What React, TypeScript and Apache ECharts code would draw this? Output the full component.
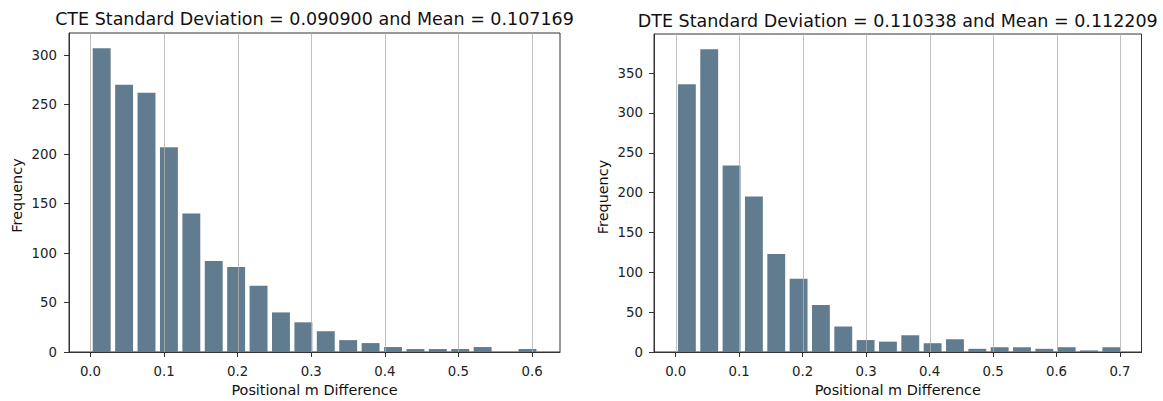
import React, { useEffect, useRef } from "react";
import * as echarts from "echarts";

const cteTitle = "CTE Standard Deviation = 0.090900 and Mean = 0.107169";
const dteTitle = "DTE Standard Deviation = 0.110338 and Mean = 0.112209";
const xLabel = "Positional m Difference";
const yLabel = "Frequency";

// histogram counts (20 bins each)
const cteCounts = [307, 270, 262, 207, 140, 92, 86, 67, 40, 30, 21, 12, 9, 5, 3, 3, 3, 5, 0, 3];
const dteCounts = [336, 380, 234, 195, 123, 92, 59, 32, 15, 13, 21, 11, 16, 4, 6, 6, 4, 6, 2, 6];
// data range covered by the bins
const cteRange = [0.0, 0.609];
const dteRange = [0.0, 0.704];

const cteXTicks = [0, 0.1, 0.2, 0.3, 0.4, 0.5, 0.6];
const dteXTicks = [0, 0.1, 0.2, 0.3, 0.4, 0.5, 0.6, 0.7];
const cteYTicks = [0, 50, 100, 150, 200, 250, 300];
const dteYTicks = [0, 50, 100, 150, 200, 250, 300, 350];

const BAR_COLOR = "#607c8e";
const FONT = "DejaVu Sans";
const RWIDTH = 0.8;

function bins(counts: number[], range: number[]) {
  const w = (range[1] - range[0]) / counts.length;
  return counts.map((c, i) => [range[0] + i * w, range[0] + (i + 1) * w, c]);
}

const barRender = (params: any, api: any) => {
  const x0 = api.value(0);
  const x1 = api.value(1);
  const y = api.value(2);
  const pad = ((x1 - x0) * (1 - RWIDTH)) / 2;
  const p0 = api.coord([x0 + pad, y]);
  const p1 = api.coord([x1 - pad, 0]);
  return {
    type: "rect",
    shape: { x: p0[0], y: p0[1], width: p1[0] - p0[0], height: p1[1] - p0[1] },
    style: { fill: BAR_COLOR },
  };
};

const gridRender = (params: any, api: any) => {
  const cs = params.coordSys;
  const p = api.coord([api.value(0), 0]);
  const x = Math.round(p[0]) + 0.5;
  return {
    type: "line",
    shape: { x1: x, y1: cs.y, x2: x, y2: cs.y + cs.height },
    style: { stroke: "rgba(176,176,176,0.8)", lineWidth: 1 },
  };
};

function xAxisCfg(gridIndex: number, min: number, max: number, ticks: number[]) {
  return {
    type: "value",
    gridIndex,
    min,
    max,
    z: 5,
    axisLine: { show: true, onZero: false, lineStyle: { color: "#333", width: 1 } },
    axisTick: { show: true, length: 5, customValues: ticks, lineStyle: { color: "#333" } },
    axisLabel: {
      customValues: ticks,
      formatter: (v: number) => v.toFixed(1),
      fontFamily: FONT,
      fontSize: 13.3,
      color: "#222",
      margin: 19,
      verticalAlign: "middle",
    },
    splitLine: { show: false },
  };
}

function yAxisCfg(gridIndex: number, max: number, ticks: number[], margin: number) {
  return {
    type: "value",
    gridIndex,
    min: 0,
    max,
    z: 5,
    axisLine: { show: true, onZero: false, lineStyle: { color: "#333", width: 1 } },
    axisTick: { show: true, length: 5, customValues: ticks, lineStyle: { color: "#333" } },
    axisLabel: {
      customValues: ticks,
      fontFamily: FONT,
      fontSize: 13.3,
      color: "#222",
      margin,
    },
    splitLine: { show: false },
  };
}

export default function App() {
  const ref = useRef<HTMLDivElement>(null);
  useEffect(() => {
    if (!ref.current) return;
    const chart = echarts.init(ref.current, undefined, { renderer: "svg" });
    const g1 = { left: 69, top: 33, width: 491, height: 319 };
    const g2 = { left: 654, top: 34, width: 487.5, height: 318 };
    const c1 = g1.left + g1.width / 2;
    const c2 = g2.left + g2.width / 2;
    const textStyle = (size: number) => ({ fontFamily: FONT, fontSize: size, fill: "#111" });
    chart.setOption({
      animation: false,
      backgroundColor: "#fff",
      grid: [
        { ...g1, show: true, borderColor: "#333", borderWidth: 1, backgroundColor: "transparent" },
        { ...g2, show: true, borderColor: "#333", borderWidth: 1, backgroundColor: "transparent" },
      ],
      xAxis: [
        xAxisCfg(0, -0.0292, 0.638, cteXTicks),
        xAxisCfg(1, -0.0342, 0.7339, dteXTicks),
      ],
      yAxis: [
        yAxisCfg(0, 322.35, cteYTicks, 12),
        yAxisCfg(1, 399, dteYTicks, 11),
      ],
      series: [
        {
          type: "custom",
          xAxisIndex: 0,
          yAxisIndex: 0,
          z: 2,
          renderItem: barRender,
          encode: { x: [0, 1], y: 2 },
          data: bins(cteCounts, cteRange),
        },
        {
          type: "custom",
          xAxisIndex: 1,
          yAxisIndex: 1,
          z: 2,
          renderItem: barRender,
          encode: { x: [0, 1], y: 2 },
          data: bins(dteCounts, dteRange),
        },
        {
          type: "custom",
          xAxisIndex: 0,
          yAxisIndex: 0,
          z: 3,
          renderItem: gridRender,
          encode: { x: 0, y: 1 },
          data: cteXTicks.map((v) => [v, 0]),
        },
        {
          type: "custom",
          xAxisIndex: 1,
          yAxisIndex: 1,
          z: 3,
          renderItem: gridRender,
          encode: { x: 0, y: 1 },
          data: dteXTicks.map((v) => [v, 0]),
        },
      ],
      graphic: [
        {
          type: "text",
          x: c1,
          y: 18.5,
          style: { ...textStyle(17.5), text: cteTitle, textAlign: "center", textVerticalAlign: "middle" },
        },
        {
          type: "text",
          x: c2,
          y: 20.5,
          style: { ...textStyle(17.5), text: dteTitle, textAlign: "center", textVerticalAlign: "middle" },
        },
        {
          type: "text",
          x: c1,
          y: 389.5,
          style: { ...textStyle(14.4), text: xLabel, textAlign: "center", textVerticalAlign: "middle" },
        },
        {
          type: "text",
          x: c2,
          y: 389.5,
          style: { ...textStyle(14.4), text: xLabel, textAlign: "center", textVerticalAlign: "middle" },
        },
        {
          type: "text",
          x: 17,
          y: 195.5,
          rotation: Math.PI / 2,
          style: { ...textStyle(14.4), text: yLabel, textAlign: "center", textVerticalAlign: "middle" },
        },
        {
          type: "text",
          x: 602.5,
          y: 197,
          rotation: Math.PI / 2,
          style: { ...textStyle(14.4), text: yLabel, textAlign: "center", textVerticalAlign: "middle" },
        },
      ],
    });
    return () => chart.dispose();
  }, []);
  return (
    <div
      ref={ref}
      style={{ position: "fixed", left: 0, top: 0, width: 1163, height: 401 }}
    />
  );
}
